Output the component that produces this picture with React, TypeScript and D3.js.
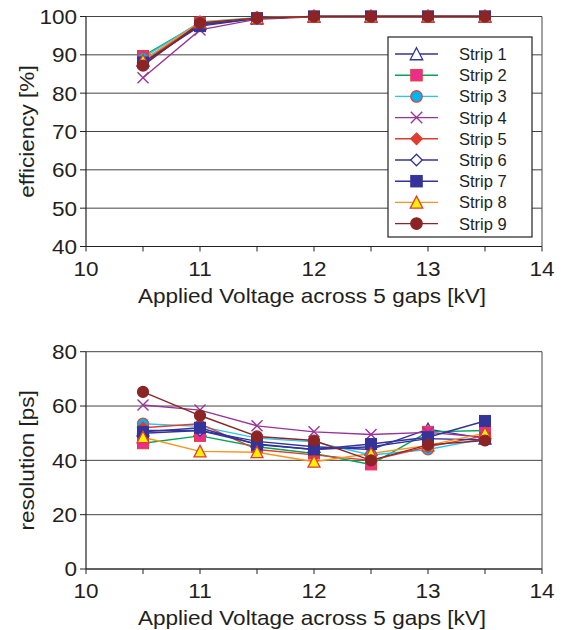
import React from "react";
import * as d3 from "d3";

const voltages = [10.5, 11, 11.5, 12, 12.5, 13, 13.5];
const stripNames = ["Strip 1", "Strip 2", "Strip 3", "Strip 4", "Strip 5", "Strip 6", "Strip 7", "Strip 8", "Strip 9"];

const efficiency = [
  [88.5, 98.0, 99.5, 100, 100, 100, 100],
  [89.7, 98.3, 99.6, 100, 100, 100, 100],
  [89.2, 98.6, 99.7, 100, 100, 100, 100],
  [84.0, 96.5, 99.3, 99.9, 100, 100, 100],
  [88.0, 98.2, 99.6, 100, 100, 100, 100],
  [87.5, 97.8, 99.5, 100, 100, 100, 100],
  [88.0, 97.5, 99.5, 100, 100, 100, 100],
  [88.5, 98.5, 99.6, 100, 100, 100, 100],
  [87.2, 98.3, 99.6, 100, 100, 100, 100],
];

const resolution = [
  [51.0, 51.0, 47.0, 45.0, 44.0, 51.5, 48.0],
  [46.3, 49.0, 45.0, 42.5, 38.5, 50.5, 51.0],
  [53.5, 52.5, 48.2, 46.8, 42.0, 44.0, 48.0],
  [60.4, 58.5, 52.7, 50.5, 49.5, 50.3, 48.5],
  [52.0, 53.5, 44.0, 42.0, 40.0, 45.0, 49.0],
  [50.0, 51.0, 46.0, 44.0, 45.0, 48.0, 47.5],
  [50.5, 52.0, 45.8, 44.0, 46.0, 48.5, 54.5],
  [48.5, 43.3, 43.0, 39.5, 42.5, 45.5, 50.0],
  [65.2, 56.5, 48.8, 47.3, 40.0, 45.7, 47.3],
];

const xTicks = [10, 11, 12, 13, 14];
const effTicks = [40, 50, 60, 70, 80, 90, 100];
const resTicks = [0, 20, 40, 60, 80];

type Style = { line: string; shape: string; fill: string; stroke: string };
const styles: Style[] = [
  { line: "#333399", shape: "triangle", fill: "#ffffff", stroke: "#333399" },
  { line: "#00A651", shape: "square", fill: "#EC2D8C", stroke: "#E0403A" },
  { line: "#27C4F4", shape: "circle", fill: "#00B4EE", stroke: "#E0403A" },
  { line: "#993399", shape: "x", fill: "none", stroke: "#993399" },
  { line: "#E03C31", shape: "diamond", fill: "#E03C31", stroke: "#E03C31" },
  { line: "#333399", shape: "diamond", fill: "#ffffff", stroke: "#333399" },
  { line: "#333399", shape: "square", fill: "#333399", stroke: "#333399" },
  { line: "#F7941D", shape: "triangle", fill: "#FFF200", stroke: "#E03C31" },
  { line: "#8B2525", shape: "circle", fill: "#8B2525", stroke: "#8B2525" },
];

const FONT = "'Liberation Sans', Arial, sans-serif";
const FS = 20.5;
const SX = 1.1;

function Label({ x, y, anchor = "middle", rotate = 0, children }: { x: number; y: number; anchor?: string; rotate?: number; children: React.ReactNode }) {
  return (
    <text
      transform={`translate(${x},${y}) rotate(${rotate}) scale(${SX},1)`}
      dy="0.36em"
      textAnchor={anchor}
      fontSize={FS}
      fill="#231f20"
      fontFamily={FONT}
    >
      {children}
    </text>
  );
}

function Marker({ x, y, st, s = 11 }: { x: number; y: number; st: Style; s?: number }) {
  const h = s / 2;
  switch (st.shape) {
    case "triangle":
      return <path d={`M${x},${y - h - 0.5}L${x + h + 0.5},${y + h}L${x - h - 0.5},${y + h}Z`} fill={st.fill} stroke={st.stroke} strokeWidth={1.3} />;
    case "square":
      return <rect x={x - h} y={y - h} width={s} height={s} fill={st.fill} stroke={st.stroke} strokeWidth={1} />;
    case "circle":
      return <circle cx={x} cy={y} r={h} fill={st.fill} stroke={st.stroke} strokeWidth={1.2} />;
    case "diamond":
      return <path d={`M${x},${y - h}L${x + h},${y}L${x},${y + h}L${x - h},${y}Z`} fill={st.fill} stroke={st.stroke} strokeWidth={1.3} />;
    case "x":
      return <path d={`M${x - h},${y - h}L${x + h},${y + h}M${x + h},${y - h}L${x - h},${y + h}`} fill="none" stroke={st.stroke} strokeWidth={1.4} />;
  }
  return null;
}

function Panel({
  data, yDomain, yTicks, top, bottom, yTitle, legend,
}: {
  data: number[][]; yDomain: [number, number]; yTicks: number[]; top: number; bottom: number; yTitle: string; legend?: boolean;
}) {
  const left = 86;
  const right = 542;
  const x = d3.scaleLinear().domain([10, 14]).range([left, right]);
  const y = d3.scaleLinear().domain(yDomain).range([bottom, top]);
  const line = d3.line<number>().x((_, i) => x(voltages[i])).y((d) => y(d));
  const minorX = d3.range(10, 14.01, 0.5);
  const legTop = 37;
  const legLeft = 388;
  const legW = 144;
  const legH = 200;
  return (
    <g>
      {yTicks.map((t) => (
        <line key={"g" + t} x1={left} x2={right} y1={y(t)} y2={y(t)} stroke="#444" strokeWidth={1} />
      ))}
      <line x1={right} x2={right} y1={top} y2={bottom} stroke="#444" strokeWidth={1} />
      {data.map((row, si) => (
        <path key={"l" + si} d={line(row) || ""} fill="none" stroke={styles[si].line} strokeWidth={1.4} />
      ))}
      {data.map((row, si) => (
        <g key={"m" + si}>
          {row.map((v, i) => (
            <Marker key={i} x={x(voltages[i])} y={y(v)} st={styles[si]} />
          ))}
        </g>
      ))}
      <line x1={left} x2={left} y1={top} y2={bottom} stroke="#222" strokeWidth={1.2} />
      <line x1={left} x2={right} y1={bottom} y2={bottom} stroke="#222" strokeWidth={1.2} />
      {yTicks.map((t) => (
        <g key={"yt" + t}>
          <line x1={left - 6} x2={left} y1={y(t)} y2={y(t)} stroke="#222" strokeWidth={1} />
          <Label x={left - 9} y={y(t)} anchor="end">{t}</Label>
        </g>
      ))}
      {minorX.map((t) => (
        <line key={"xt" + t} x1={x(t)} x2={x(t)} y1={bottom} y2={bottom + 5} stroke="#222" strokeWidth={1} />
      ))}
      {xTicks.map((t) => (
        <Label key={"xl" + t} x={x(t)} y={bottom + 22}>{t}</Label>
      ))}
      <Label x={(left + right) / 2 - 2} y={bottom + 49}>Applied Voltage across 5 gaps [kV]</Label>
      <Label x={27} y={(top + bottom) / 2} rotate={-90}>{yTitle}</Label>
      {legend && (
        <g>
          <rect x={legLeft} y={legTop} width={legW} height={legH} fill="#fff" stroke="#222" strokeWidth={1.2} />
          {stripNames.map((n, i) => {
            const cy = legTop + 17 + i * 21.2;
            return (
              <g key={n}>
                <line x1={395} x2={438} y1={cy} y2={cy} stroke={styles[i].line} strokeWidth={1.4} />
                <Marker x={416.5} y={cy} st={styles[i]} s={11.5} />
                <text x={459} y={cy} dy="0.36em" fontSize={16.5} fill="#231f20" fontFamily={FONT}>{n}</text>
              </g>
            );
          })}
        </g>
      )}
    </g>
  );
}

export default function App() {
  return (
    <svg width={563} height={630} style={{ position: "absolute", left: 0, top: 0, background: "#fff" }}>
      <rect width={563} height={630} fill="#fff" />
      <Panel data={efficiency} yDomain={[40, 100]} yTicks={effTicks} top={16.5} bottom={246.5} yTitle="efficiency [%]" legend />
      <Panel data={resolution} yDomain={[0, 80]} yTicks={resTicks} top={351.7} bottom={569} yTitle="resolution [ps]" />
    </svg>
  );
}
